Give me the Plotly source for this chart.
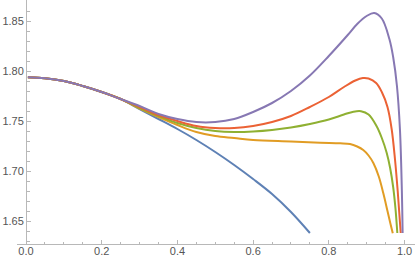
import plotly.graph_objects as go

# shared early part
x_common = [0.005, 0.05, 0.1, 0.15, 0.2, 0.25]
y_common = [1.7937, 1.7928, 1.7900, 1.7850, 1.7790, 1.7720]

blue_x = x_common + [0.3, 0.35, 0.4, 0.45, 0.5, 0.55, 0.6, 0.65, 0.7, 0.75]
blue_y = y_common + [1.7620, 1.7520, 1.7420, 1.7310, 1.7190, 1.7060, 1.6920, 1.6770, 1.6590, 1.6380]

orange_x = x_common + [0.3, 0.35, 0.4, 0.45, 0.5, 0.55, 0.6, 0.7, 0.777, 0.83, 0.856, 0.875, 0.891, 0.905, 0.918, 0.932, 0.944, 0.955, 0.963, 0.969]
orange_y = y_common + [1.7625, 1.7540, 1.7460, 1.7390, 1.7350, 1.7330, 1.7310, 1.7295, 1.7283, 1.7277, 1.7270, 1.7245, 1.7210, 1.7155, 1.7077, 1.6945, 1.6777, 1.6600, 1.6470, 1.6377]

green_x = x_common + [0.3, 0.35, 0.4, 0.45, 0.5, 0.55, 0.6, 0.65, 0.7, 0.75, 0.8, 0.84, 0.865, 0.885, 0.905, 0.926, 0.94, 0.953, 0.962, 0.97, 0.976, 0.981]
green_y = y_common + [1.7630, 1.7550, 1.7480, 1.7430, 1.7400, 1.7390, 1.7395, 1.7410, 1.7435, 1.7470, 1.7515, 1.7565, 1.7593, 1.7598, 1.7565, 1.7450, 1.7330, 1.7180, 1.7030, 1.6840, 1.6630, 1.6380]

red_x = x_common + [0.3, 0.35, 0.4, 0.45, 0.5, 0.55, 0.6, 0.65, 0.7, 0.75, 0.8, 0.84, 0.87, 0.89, 0.905, 0.925, 0.94, 0.955, 0.966, 0.975, 0.982, 0.99]
red_y = y_common + [1.7640, 1.7560, 1.7500, 1.7450, 1.7430, 1.7430, 1.7450, 1.7490, 1.7550, 1.7640, 1.7740, 1.7840, 1.7905, 1.7930, 1.7925, 1.7880, 1.7790, 1.7640, 1.7420, 1.7110, 1.6800, 1.6380]

purple_x = x_common + [0.3, 0.35, 0.4, 0.45, 0.5, 0.55, 0.6, 0.65, 0.7, 0.75, 0.8, 0.85, 0.875, 0.9, 0.92, 0.94, 0.96, 0.97, 0.98, 0.988, 0.993, 0.995]
purple_y = y_common + [1.7650, 1.7570, 1.7520, 1.7490, 1.7490, 1.7520, 1.7590, 1.7680, 1.7800, 1.7955, 1.8150, 1.8360, 1.8470, 1.8550, 1.8580, 1.8525, 1.8320, 1.8140, 1.7850, 1.7410, 1.6800, 1.6380]

series = [
    (blue_x, blue_y, "#5E81B5"),
    (orange_x, orange_y, "#E19C24"),
    (green_x, green_y, "#8FB032"),
    (red_x, red_y, "#EB6235"),
    (purple_x, purple_y, "#8778B3"),
]

x_ticks = [0.0, 0.2, 0.4, 0.6, 0.8, 1.0]
y_ticks = [1.65, 1.70, 1.75, 1.80, 1.85]

fig = go.Figure()
for xs, ys, c in series:
    fig.add_trace(go.Scatter(x=xs, y=ys, mode="lines",
                             line=dict(color=c, width=2, shape="spline", smoothing=1.0),
                             hoverinfo="skip", showlegend=False))

xmin, xmax = -0.0238, 1.0277
axis_grey = "#b8b8b8"
fig.update_layout(
    width=415, height=264,
    margin=dict(l=17, r=0, t=0, b=20),
    paper_bgcolor="white", plot_bgcolor="white",
    font=dict(family="Liberation Sans, Arial, sans-serif", size=11, color="#555555"),
    xaxis=dict(range=[xmin, xmax], showgrid=False, zeroline=False, automargin=False,
               showline=True, linecolor=axis_grey, linewidth=1,
               tickvals=x_ticks, ticktext=[f"{v:.1f}" for v in x_ticks],
               ticks="inside", ticklen=4, tickcolor=axis_grey, tickwidth=1,
               ticklabelstandoff=-3,
               minor=dict(ticks="inside", ticklen=2.5, tickcolor=axis_grey, dtick=0.05, tick0=0, showgrid=False),
               fixedrange=True),
    yaxis=dict(range=[1.627, 1.871], showgrid=False, zeroline=False, automargin=False,
               showline=True, linecolor=axis_grey, linewidth=1,
               anchor="free", position=(0 - xmin) / (xmax - xmin),
               tickvals=y_ticks, ticktext=[f"{v:.2f}" for v in y_ticks],
               ticks="inside", ticklen=4, tickcolor=axis_grey, tickwidth=1,
               minor=dict(ticks="inside", ticklen=2.5, tickcolor=axis_grey, dtick=0.01, tick0=1.6, showgrid=False),
               fixedrange=True),
)
fig.write_html("out.html", config={"displayModeBar": False},
               post_script="document.body.style.margin='0';document.documentElement.style.margin='0';")
